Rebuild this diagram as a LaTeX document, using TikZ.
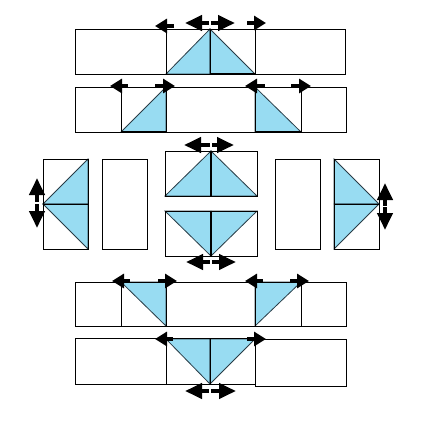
\documentclass[tikz,border=0pt]{standalone}
\usetikzlibrary{arrows.meta}
\definecolor{tri}{RGB}{152,220,242}
\definecolor{triedge}{RGB}{40,60,70}
\tikzset{
  box/.style={draw=black, line width=1pt},
  trifill/.style={fill=tri, draw=triedge, line width=0.8pt},
  thickline/.style={draw=black, line width=2pt},
  sarrow/.style={line width=4pt, -{Triangle[length=12pt,width=14pt]}},
  darrow/.style={line width=4pt, -{Triangle[length=17pt,width=15pt]}},
}
\begin{document}
\begin{tikzpicture}[x=1pt,y=-1pt]
\useasboundingbox[fill=white] (0,0) rectangle (423,426);

% ---------- Row 1 ----------
\filldraw[trifill] (166,74) -- (210,29) -- (210,74) -- cycle;
\filldraw[trifill] (210,29) -- (210,74) -- (255,74) -- cycle;
\draw[box] (75,29) rectangle (166,74);
\draw[box] (166,29) rectangle (255,74);
\draw[box] (255,29) rectangle (345,74);
\draw[box] (210,29) -- (210,74);
\draw[thickline] (210,74) -- (255,74);
\coordinate (r1a) at (174,26); \coordinate (r1b) at (155,26);
\coordinate (r1c) at (209.2,23); \coordinate (r1d) at (185,23);
\coordinate (r1e) at (210.8,23); \coordinate (r1f) at (235,23);
\coordinate (r1g) at (247,23); \coordinate (r1h) at (266,23);
\draw[sarrow] (r1a) -- (r1b);
\draw[darrow] (r1c) -- (r1d);
\draw[darrow] (r1e) -- (r1f);
\draw[sarrow] (r1g) -- (r1h);

% ---------- Row 2 ----------
\filldraw[trifill] (121,132) -- (166,87) -- (166,132) -- cycle;
\filldraw[trifill] (255,87) -- (255,132) -- (301,132) -- cycle;
\draw[box] (75,87) rectangle (346,132);
\draw[box] (121,87) -- (121,132);
\draw[box] (166,87) -- (166,132);
\draw[box] (255,87) -- (255,132);
\draw[box] (301,87) -- (301,132);
\draw[thickline] (121,132) -- (166,132);
\draw[thickline] (255,132) -- (301,132);
\coordinate (r2a) at (128,86); \coordinate (r2b) at (110,86);
\coordinate (r2c) at (155,86); \coordinate (r2d) at (175,86);
\coordinate (r2e) at (265,86); \coordinate (r2f) at (245,86);
\coordinate (r2g) at (291,86); \coordinate (r2h) at (311,86);
\draw[sarrow] (r2a) -- (r2b);
\draw[sarrow] (r2c) -- (r2d);
\draw[sarrow] (r2e) -- (r2f);
\draw[sarrow] (r2g) -- (r2h);

% ---------- Row 3 ----------
% left pair
\filldraw[trifill] (43,204) -- (88,159) -- (88,204) -- cycle;
\filldraw[trifill] (43,204) -- (88,204) -- (88,249) -- cycle;
\draw[box] (43,159) rectangle (88,249);
\draw[box] (43,204) -- (88,204);
\draw[box] (102,159) rectangle (147,249);
% center top
\filldraw[trifill] (165,196) -- (211,151) -- (211,196) -- cycle;
\filldraw[trifill] (211,151) -- (211,196) -- (257,196) -- cycle;
\draw[box] (165,151) rectangle (257,196);
\draw[thickline] (211,151) -- (211,196);
% center bottom
\filldraw[trifill] (165,211) -- (211,256) -- (211,211) -- cycle;
\filldraw[trifill] (211,211) -- (211,256) -- (257,211) -- cycle;
\draw[box] (165,211) rectangle (257,256);
\draw[thickline] (211,211) -- (211,256);
% right pair
\draw[box] (275,159) rectangle (320,249);
\filldraw[trifill] (334,159) -- (379,204) -- (334,204) -- cycle;
\filldraw[trifill] (334,204) -- (379,204) -- (334,249) -- cycle;
\draw[box] (334,159) rectangle (379,249);
\draw[box] (334,204) -- (379,204);
% arrows
\coordinate (r3a) at (37,202.2); \coordinate (r3b) at (37,178);
\coordinate (r3c) at (37,203.8); \coordinate (r3d) at (37,228);
\coordinate (r3e) at (385,205.7); \coordinate (r3f) at (385,183);
\coordinate (r3g) at (385,207.3); \coordinate (r3h) at (385,230);
\coordinate (r3i) at (210.2,145); \coordinate (r3j) at (184,145);
\coordinate (r3k) at (211.8,145); \coordinate (r3l) at (234,145);
\coordinate (r3m) at (210.2,262); \coordinate (r3n) at (186,262);
\coordinate (r3o) at (211.8,262); \coordinate (r3p) at (236,262);
\draw[darrow] (r3a) -- (r3b);
\draw[darrow] (r3c) -- (r3d);
\draw[darrow] (r3e) -- (r3f);
\draw[darrow] (r3g) -- (r3h);
\draw[darrow] (r3i) -- (r3j);
\draw[darrow] (r3k) -- (r3l);
\draw[darrow] (r3m) -- (r3n);
\draw[darrow] (r3o) -- (r3p);

% ---------- Row 4 ----------
\filldraw[trifill] (121,282) -- (166,282) -- (166,326) -- cycle;
\filldraw[trifill] (255,326) -- (301,282) -- (255,282) -- cycle;
\draw[box] (75,282) rectangle (346,326);
\draw[box] (121,282) -- (121,326);
\draw[box] (166,282) -- (166,326);
\draw[box] (255,282) -- (255,326);
\draw[box] (301,282) -- (301,326);
\coordinate (r4a) at (130,281); \coordinate (r4b) at (112,281);
\coordinate (r4c) at (158,281); \coordinate (r4d) at (177,281);
\coordinate (r4e) at (263,281); \coordinate (r4f) at (245,281);
\coordinate (r4g) at (290,281); \coordinate (r4h) at (309,281);
\draw[sarrow] (r4a) -- (r4b);
\draw[sarrow] (r4c) -- (r4d);
\draw[sarrow] (r4e) -- (r4f);
\draw[sarrow] (r4g) -- (r4h);

% ---------- Row 5 ----------
\filldraw[trifill] (166,339) -- (210,384) -- (210,339) -- cycle;
\filldraw[trifill] (210,339) -- (210,384) -- (255,339) -- cycle;
\draw[box] (75,338) rectangle (166,384);
\draw[box] (166,338) rectangle (255,384);
\draw[box] (255,339) rectangle (346,386);
\draw[box] (210,339) -- (210,384);
\coordinate (r5a) at (173,339); \coordinate (r5b) at (155,339);
\coordinate (r5c) at (247,339); \coordinate (r5d) at (266,339);
\coordinate (r5e) at (209.2,391); \coordinate (r5f) at (185,391);
\coordinate (r5g) at (210.8,391); \coordinate (r5h) at (236,391);
\draw[sarrow] (r5a) -- (r5b);
\draw[sarrow] (r5c) -- (r5d);
\draw[darrow] (r5e) -- (r5f);
\draw[darrow] (r5g) -- (r5h);
\end{tikzpicture}
\end{document}
